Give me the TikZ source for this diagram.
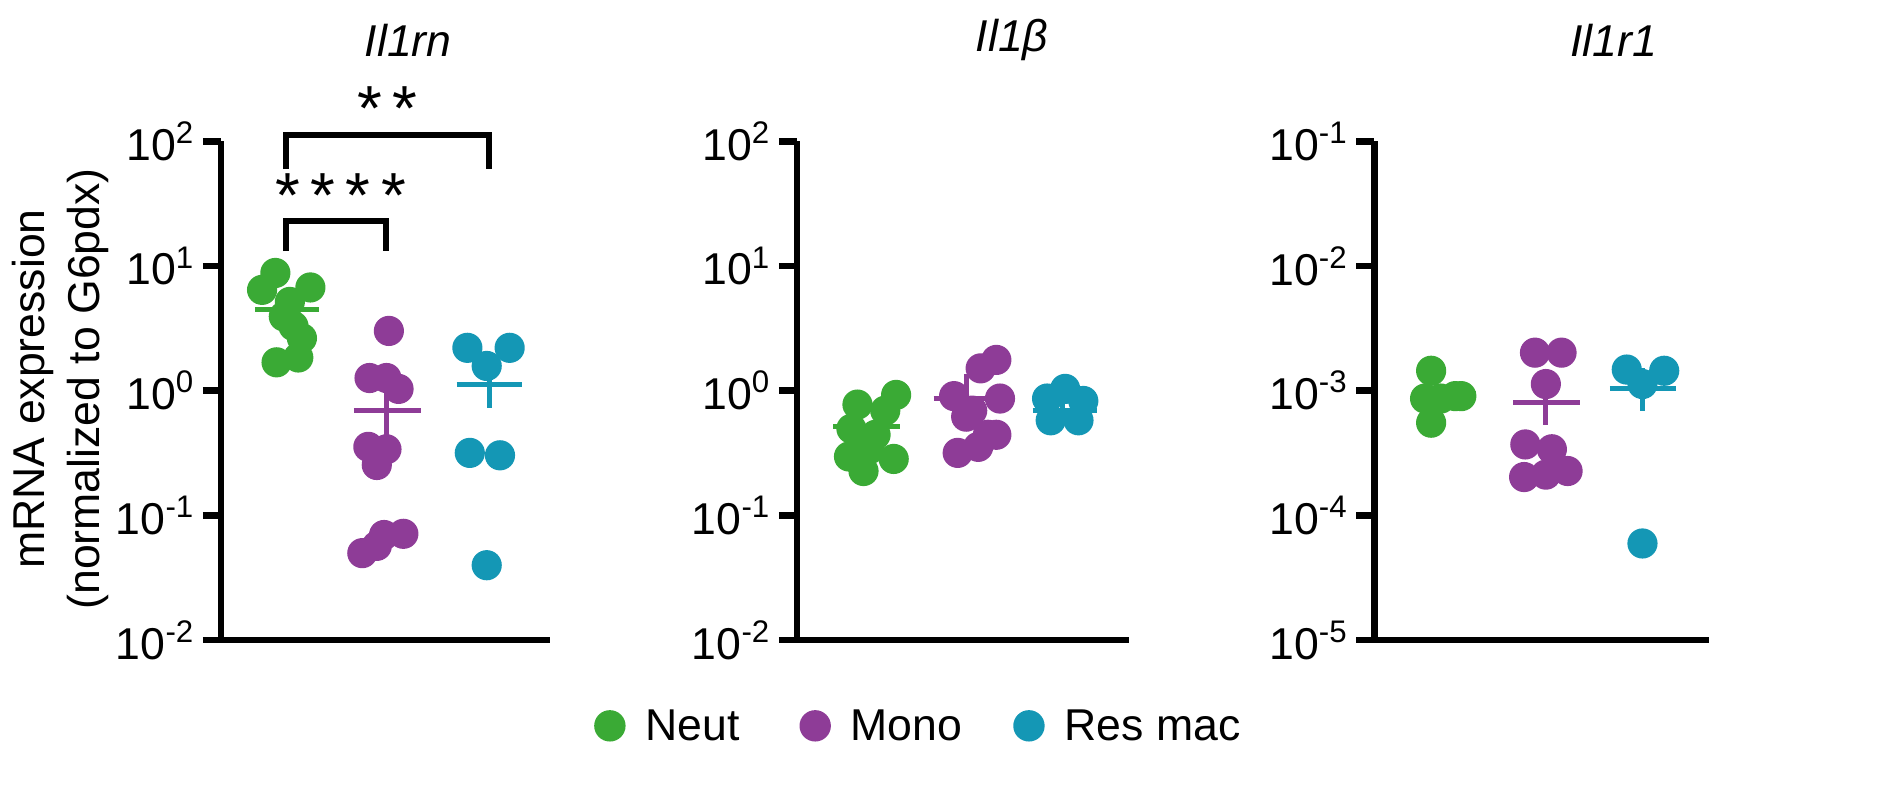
\documentclass[tikz,border=0pt]{standalone}
\usepackage{fontspec}
\setmainfont{Liberation Sans}
\begin{document}
\begin{tikzpicture}[x=0.01cm,y=-0.01cm,
  ax/.style={line width=1.6pt},
  tk/.style={anchor=east,font=\fontsize{10.5}{12}\selectfont,inner sep=1pt},
  ttl/.style={font=\fontsize{10.5}{12}\selectfont\itshape},
  lg/.style={font=\fontsize{10.5}{12}\selectfont,anchor=west},
  mn/.style={line width=1.2pt}]
\definecolor{colN}{HTML}{3AAA35}
\definecolor{colM}{HTML}{8E3C97}
\definecolor{colR}{HTML}{1497B5}
\useasboundingbox (0,0) rectangle (1560,657);
\newcommand{\dts}[2]{\foreach \p in {#2} \fill[#1] \p circle (12.5);}
% axes
\foreach \ox/\xe/\lb [count=\k] in {183/455/{2,1,0,-1,-2},660/935/{2,1,0,-1,-2},1138/1415/{-1,-2,-3,-4,-5}}{
  \draw[ax] (\ox,117) -- (\ox,530) -- (\xe,530);
  \foreach \e [count=\i from 0] in \lb {
    \draw[ax] (\ox-15,117+103.25*\i) -- (\ox,117+103.25*\i);
    \node[tk] (t\k\i) at (\ox-17,117+103.25*\i) {10\textsuperscript{\e}};
  }
}
\node[ttl] (h1) at (338,33) {Il1rn};
\node[ttl] (h2) at (838,33) {Il1β};
\node[ttl] (h3) at (1336,33) {Il1r1};
\node[rotate=90,font=\fontsize{10.5}{13}\selectfont,align=center] (yl) at (50,322) {mRNA expression\\(normalized to G6pdx)};
% brackets
\draw[line width=1.4pt] (237,140) -- (237,112) -- (405,112) -- (405,140);
\node[font=\fontsize{15}{15}\selectfont] (s1) at (321,90) {*\,*};
\draw[line width=1.4pt] (237,208) -- (237,183) -- (320,183) -- (320,208);
\node[font=\fontsize{15}{15}\selectfont] (s2) at (282,162) {*\,*\,*\,*};
% panel 1
\dts{colN}{(228,226),(217,240),(257,238),(240,250),(243,270),(229,300),(247,296),(235,262),(250,280)}
\draw[colN,mn] (211,256) -- (264,256);
\draw[colM,mn] (320,312) -- (320,362); \draw[colM,mn] (293,340) -- (349,340);
\dts{colM}{(322,274),(306,313),(320,313),(330,322),(305,370),(320,372),(312,385),(300,458),(318,443),(334,442),(312,452)}
\draw[colR,mn] (405,298) -- (405,338); \draw[colR,mn] (378,318) -- (432,318);
\dts{colR}{(387,288),(422,288),(403,303),(389,375),(414,377),(403,468)}
% panel 2
\dts{colN}{(710,335),(742,327),(733,340),(705,355),(725,360),(720,372),(703,378),(740,380),(715,390)}
\draw[colN,mn] (690,353) -- (745,353);
\dts{colM}{(825,298),(812,305),(790,328),(805,340),(828,330),(800,345),(818,360),(793,375),(810,370),(825,360)}
\draw[colM,mn] (800,310) -- (800,350); \draw[colM,mn] (773,330) -- (828,330);
\dts{colR}{(882,322),(867,330),(897,332),(870,348),(893,348)}
\draw[colR,mn] (880,330) -- (880,350); \draw[colR,mn] (855,340) -- (908,340);
% panel 3
\dts{colN}{(1185,307),(1210,328),(1180,330),(1193,330),(1205,328),(1185,350)}
\draw[colN,mn] (1170,326) -- (1222,326);
\draw[colM,mn] (1280,318) -- (1280,352); \draw[colM,mn] (1253,333) -- (1308,333);
\dts{colM}{(1271,292),(1293,292),(1280,318),(1263,368),(1285,372),(1262,395),(1280,393),(1298,390)}
\draw[colR,mn] (1360,305) -- (1360,340); \draw[colR,mn] (1333,322) -- (1388,322);
\dts{colR}{(1347,306),(1378,307),(1360,318),(1360,450)}
% legend
\fill[colN] (505,601) circle (13); \node[lg] (l1) at (522,601) {Neut};
\fill[colM] (675,601) circle (13); \node[lg] (l2) at (692,601) {Mono};
\fill[colR] (852,601) circle (13); \node[lg] (l3) at (869,601) {Res mac};
\end{tikzpicture}
\end{document}
